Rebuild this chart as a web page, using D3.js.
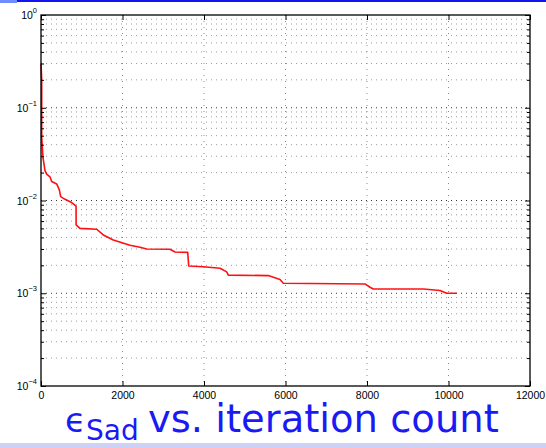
<!DOCTYPE html>
<html>
<head>
<meta charset="utf-8">
<script src="https://cdn.jsdelivr.net/npm/d3@7"></script>
<style>
  html, body { margin: 0; padding: 0; background: #fff; }
  svg { display: block; }
</style>
</head>
<body>
<svg id="chart" width="546" height="448"></svg>
<script>
// Residual history: iteration number and error value
const iterations = [0, 17, 17, 49, 98, 140, 220, 262, 385, 450, 483, 590, 753, 860, 862, 915, 957, 1367, 1529, 1774, 2184, 2429, 2594, 3166, 3288, 3600, 3625, 3983, 4393, 4557, 4596, 5578, 5865, 5946, 7951, 8074, 8155, 9382, 9791, 9956, 10201];
const errors = [0.30, 0.20, 0.048, 0.029, 0.021, 0.0192, 0.018, 0.016, 0.0151, 0.013, 0.011, 0.0103, 0.0095, 0.0087, 0.00545, 0.0052, 0.0050, 0.0049, 0.00425, 0.00375, 0.0033, 0.00313, 0.0030, 0.00298, 0.00278, 0.00276, 0.00197, 0.00193, 0.00186, 0.0017, 0.00157, 0.00155, 0.00141, 0.00128, 0.00126, 0.00116, 0.00111, 0.00111, 0.00107, 0.0010, 0.0010];

const xTicks = [0, 2000, 4000, 6000, 8000, 10000, 12000];
const yDecades = [-4, -3, -2, -1, 0];

const svg = d3.select("#chart");
const plotL = 41, plotR = 530, plotT = 15, plotB = 386;

const x = d3.scaleLinear().domain([0, 12000]).range([plotL, plotR]);
const y = d3.scaleLog().domain([1e-4, 1]).range([plotB, plotT]);

// slide decoration: top rule and bottom band
svg.append("rect").attr("x", 0).attr("y", 0).attr("width", 546).attr("height", 2).attr("fill", "#1414f0");
svg.append("rect").attr("x", 0).attr("y", 0).attr("width", 17).attr("height", 3).attr("fill", "#6f8cff");
svg.append("rect").attr("x", 0).attr("y", 443).attr("width", 546).attr("height", 5).attr("fill", "#cfd0f6");

// minor log positions inside each decade
const minorVals = [];
yDecades.slice(0, -1).forEach(d => {
  for (let k = 2; k <= 9; k++) minorVals.push(k * Math.pow(10, d));
});
const majorVals = yDecades.map(d => Math.pow(10, d));

const grid = svg.append("g");
// horizontal dotted grid
grid.selectAll("line.hmin").data(minorVals).join("line")
  .attr("x1", plotL).attr("x2", plotR)
  .attr("y1", d => y(d)).attr("y2", d => y(d))
  .attr("stroke", "#9a9a9a").attr("stroke-width", 1)
  .attr("stroke-dasharray", "1,4");
grid.selectAll("line.hmaj").data(majorVals.slice(1, -1)).join("line")
  .attr("x1", plotL).attr("x2", plotR)
  .attr("y1", d => y(d)).attr("y2", d => y(d))
  .attr("stroke", "#333").attr("stroke-width", 1)
  .attr("stroke-dasharray", "1,4");
// vertical dotted grid
grid.selectAll("line.v").data(xTicks.slice(1, -1)).join("line")
  .attr("x1", d => x(d)).attr("x2", d => x(d))
  .attr("y1", plotT).attr("y2", plotB)
  .attr("stroke", "#8a8a8a").attr("stroke-width", 1)
  .attr("stroke-dasharray", "1,5");

// error curve
const line = d3.line().x((d, i) => x(iterations[i])).y(d => y(d));
svg.append("path").datum(errors)
  .attr("d", line)
  .attr("fill", "none")
  .attr("stroke", "#ff1010")
  .attr("stroke-width", 1.6)
  .attr("stroke-linejoin", "round");

// axes frame with inward ticks
const frame = svg.append("g");
const tickFont = "Liberation Sans, Arial, sans-serif";

const xb = d3.axisBottom(x).tickValues(xTicks).tickFormat(d3.format("d"))
  .tickSizeInner(-5).tickSizeOuter(0).tickPadding(6);
const gxb = frame.append("g").attr("transform", `translate(0,${plotB})`).call(xb);
gxb.selectAll("text").attr("font-family", tickFont).attr("font-size", 10.5).attr("fill", "#000");
const xt = d3.axisTop(x).tickValues(xTicks).tickSizeInner(-5).tickSizeOuter(0).tickFormat("");
frame.append("g").attr("transform", `translate(0,${plotT})`).call(xt);

const yl = d3.axisLeft(y).tickValues(majorVals).tickSizeInner(-5).tickSizeOuter(0).tickFormat("");
frame.append("g").attr("transform", `translate(${plotL},0)`).call(yl);
const yr = d3.axisRight(y).tickValues(majorVals).tickSizeInner(-5).tickSizeOuter(0).tickFormat("");
frame.append("g").attr("transform", `translate(${plotR},0)`).call(yr);
const ylm = d3.axisLeft(y).tickValues(minorVals).tickSizeInner(-3).tickSizeOuter(0).tickFormat("");
frame.append("g").attr("transform", `translate(${plotL},0)`).call(ylm);
const yrm = d3.axisRight(y).tickValues(minorVals).tickSizeInner(-3).tickSizeOuter(0).tickFormat("");
frame.append("g").attr("transform", `translate(${plotR},0)`).call(yrm);
frame.selectAll("path.domain").remove();
frame.selectAll(".tick line").attr("stroke", "#000");

// box
svg.append("rect").attr("x", plotL).attr("y", plotT)
  .attr("width", plotR - plotL).attr("height", plotB - plotT)
  .attr("fill", "none").attr("stroke", "#000").attr("stroke-width", 1.3);

// y tick labels as powers of ten
const yLab = svg.append("g");
yDecades.forEach(d => {
  const t = yLab.append("text")
    .attr("x", plotL - 4).attr("y", y(Math.pow(10, d)) + 4)
    .attr("text-anchor", "end")
    .attr("font-family", tickFont).attr("font-size", 10.5).attr("fill", "#000");
  t.append("tspan").text("10");
  t.append("tspan").attr("dy", -6).attr("font-size", 7.5).text(d === 0 ? "0" : "\u2212" + (-d));
});

// caption
const capFont = "DejaVu Sans, sans-serif";
const capColor = "#1a1af5";
svg.append("text").attr("x", 65).attr("y", 432)
  .attr("font-family", capFont).attr("font-size", 34).attr("fill", capColor)
  .text("\u03F5");
svg.append("text").attr("x", 86).attr("y", 440)
  .attr("font-family", capFont).attr("font-size", 28).attr("fill", capColor)
  .text("Sad");
svg.append("text").attr("x", 148).attr("y", 432)
  .attr("font-family", capFont).attr("font-size", 38.5).attr("fill", capColor)
  .text("vs. iteration count");
</script>
</body>
</html>
